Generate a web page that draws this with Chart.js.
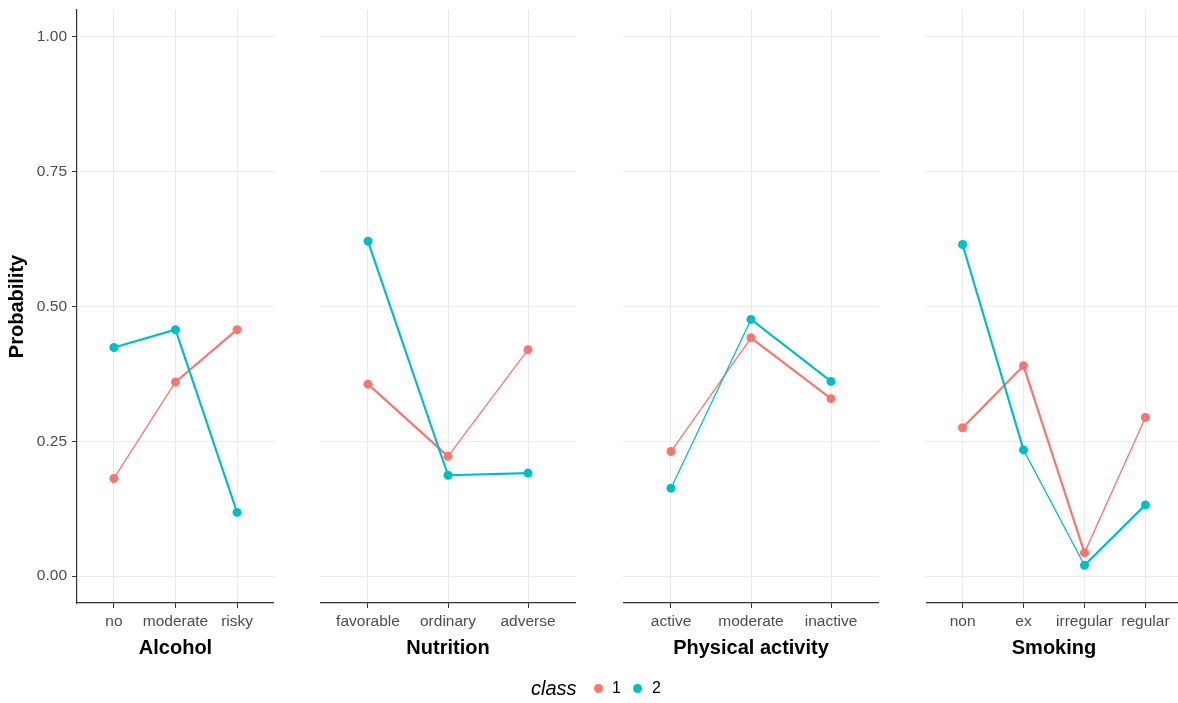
<!DOCTYPE html>
<html>
<head>
<meta charset="utf-8">
<script src="https://cdn.jsdelivr.net/npm/chart.js@4.4.1/dist/chart.umd.min.js"></script>
<style>
  html, body { margin:0; padding:0; background:#fff; width:1178px; height:703px; overflow:hidden; }
  canvas { position:absolute; top:0; }
  #legend { position:absolute; top:676px; left:0; width:1178px; height:26px; font-family:"Liberation Sans", Arial, sans-serif; }
  #legend span { position:absolute; }
</style>
</head>
<body>
<canvas id="c0"></canvas>
<canvas id="c1"></canvas>
<canvas id="c2"></canvas>
<canvas id="c3"></canvas>
<div id="legend">
  <span style="left:531px; top:1px; font-style:italic; font-size:20px; color:#000;">class</span>
  <span style="left:594px; top:8px; width:9px; height:9px; border-radius:50%; background:#F8766D;"></span>
  <span style="left:612px; top:3px; font-size:16px; color:#000;">1</span>
  <span style="left:633px; top:8px; width:9px; height:9px; border-radius:50%; background:#00BFC4;"></span>
  <span style="left:652px; top:3px; font-size:16px; color:#000;">2</span>
</div>
<script>
// ---- data ----
const seriesNames = ['1', '2'];
const yTicks = [0, 0.25, 0.5, 0.75, 1];

const alcoholCats = ['no', 'moderate', 'risky'];
const alcohol1 = [0.181, 0.360, 0.457];
const alcohol2 = [0.424, 0.457, 0.118];

const nutritionCats = ['favorable', 'ordinary', 'adverse'];
const nutrition1 = [0.356, 0.222, 0.420];
const nutrition2 = [0.621, 0.187, 0.191];

const activityCats = ['active', 'moderate', 'inactive'];
const activity1 = [0.231, 0.442, 0.329];
const activity2 = [0.163, 0.476, 0.361];

const smokingCats = ['non', 'ex', 'irregular', 'regular'];
const smoking1 = [0.275, 0.390, 0.043, 0.294];
const smoking2 = [0.615, 0.234, 0.020, 0.132];

const panelTitles = ['Alcohol', 'Nutrition', 'Physical activity', 'Smoking'];

// ---- styling (not data) ----
const COLORS = ['#F8766D', '#00BFC4'];
const THIN = 1.3, THICK = 2.2;
const segWidths = [
  [[THIN, THICK], [THICK, THICK]],
  [[THICK, THIN], [THICK, THICK]],
  [[THIN, THICK], [THIN, THICK]],
  [[THICK, THICK, THIN], [THICK, THIN, THICK]]
];
const layout = [
  { canvasLeft: 0,   axisW: 77, plotW: 197 },
  { canvasLeft: 320, axisW: 0,  plotW: 256 },
  { canvasLeft: 623, axisW: 0,  plotW: 256 },
  { canvasLeft: 926, axisW: 0,  plotW: 256 }
];
const FONT = '"Liberation Sans", Arial, sans-serif';

const panels = [
  { cats: alcoholCats,   s: [alcohol1, alcohol2] },
  { cats: nutritionCats, s: [nutrition1, nutrition2] },
  { cats: activityCats,  s: [activity1, activity2] },
  { cats: smokingCats,   s: [smoking1, smoking2] }
];

panels.forEach((p, idx) => {
  const L = layout[idx];
  const cv = document.getElementById('c' + idx);
  const W = L.axisW + L.plotW;
  cv.width = W; cv.height = 703;
  cv.style.left = L.canvasLeft + 'px';
  cv.style.width = W + 'px'; cv.style.height = '703px';
  const first = idx === 0;

  const datasets = p.s.map((vals, si) => ({
    label: seriesNames[si],
    data: vals.map((v, i) => ({ x: i, y: v })),
    borderColor: COLORS[si],
    backgroundColor: COLORS[si],
    pointBackgroundColor: COLORS[si],
    pointBorderWidth: 0,
    pointRadius: 4.5,
    pointHoverRadius: 4.5,
    borderWidth: THICK,
    order: si === 1 ? 0 : 1,
    segment: { borderWidth: ctx => segWidths[idx][si][ctx.p0DataIndex] },
    tension: 0,
    clip: false
  }));

  new Chart(cv, {
    type: 'line',
    data: { datasets },
    options: {
      responsive: false,
      animation: false,
      devicePixelRatio: 1,
      events: [],
      layout: { autoPadding: false, padding: { top: 10, left: 0, right: 0, bottom: 0 } },
      plugins: { legend: { display: false }, tooltip: { enabled: false } },
      scales: {
        x: {
          type: 'linear',
          min: -0.6,
          max: p.cats.length - 1 + 0.6,
          afterBuildTicks: s => { s.ticks = p.cats.map((c, i) => ({ value: i })); },
          afterFit: s => { s.height = 100; s.paddingLeft = 0; s.paddingRight = 0; },
          ticks: {
            callback: v => p.cats[v],
            font: { family: FONT, size: 15.5 },
            color: '#4d4d4d',
            padding: 4,
            maxRotation: 0, autoSkip: false
          },
          grid: { color: '#ebebeb', lineWidth: 1, tickColor: '#333', tickLength: 5, drawTicks: true },
          border: { display: true, color: '#333', width: 1.2 },
          title: {
            display: true, text: panelTitles[idx],
            font: { family: FONT, size: 20, weight: 'bold' },
            color: '#000', padding: { top: 0, bottom: 43 }
          }
        },
        y: {
          type: 'linear',
          min: -0.05, max: 1.05,
          afterBuildTicks: s => { s.ticks = yTicks.map(v => ({ value: v })); },
          afterFit: s => { s.width = L.axisW; s.paddingTop = 0; s.paddingBottom = 0; },
          ticks: {
            display: first,
            callback: v => v.toFixed(2),
            font: { family: FONT, size: 15.5 },
            color: '#4d4d4d',
            padding: 5
          },
          grid: { color: '#ebebeb', lineWidth: 1, tickColor: '#333', tickLength: 5, drawTicks: first },
          border: { display: first, color: '#333', width: 1.2 },
          title: {
            display: first, text: 'Probability',
            font: { family: FONT, size: 20, weight: 'bold' },
            color: '#000', padding: { top: 5, bottom: 0 }
          }
        }
      }
    }
  });
});
</script>
</body>
</html>
